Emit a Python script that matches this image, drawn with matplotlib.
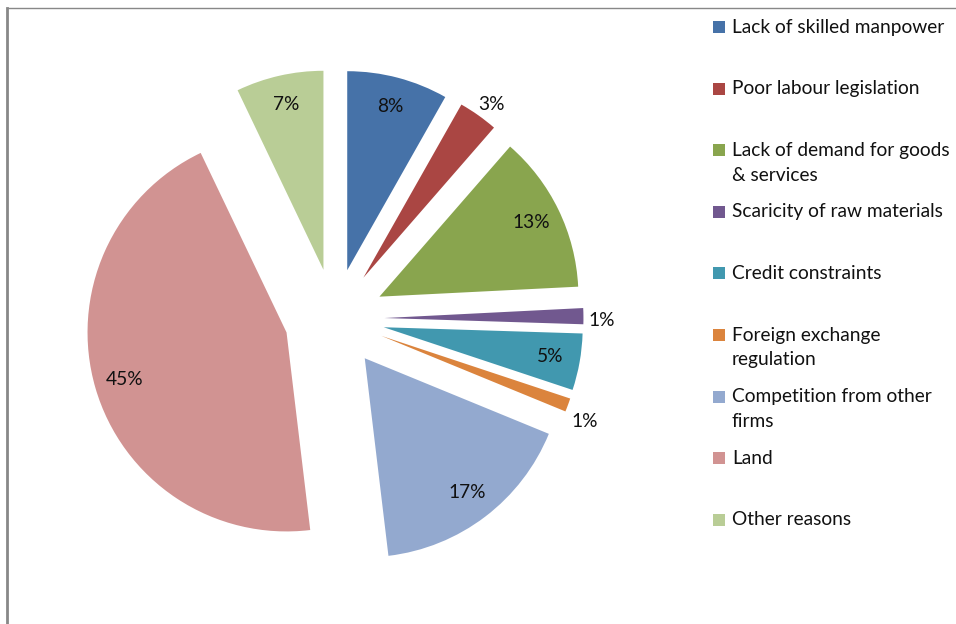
import numpy as np
import matplotlib.pyplot as plt
from matplotlib.patches import Rectangle

labels = ['Lack of skilled manpower', 'Poor labour legislation',
          'Lack of demand for goods\n& services', 'Scaricity of raw materials',
          'Credit constraints', 'Foreign exchange\nregulation',
          'Competition from other\nfirms', 'Land', 'Other reasons']
# shares; labels show them rounded
shares = [8.2, 3.2, 12.8, 1.3, 4.6, 1.1, 16.9, 44.8, 7.1]
colors = ['#4672A8', '#AA4643', '#89A54E', '#71588F', '#4198AF',
          '#DB843D', '#93A9CF', '#D19392', '#B9CD96']

plt.rcParams['font.family'] = ['Lato', 'DejaVu Sans']
W, H = 956, 624
fig = plt.figure(figsize=(W / 100, H / 100), dpi=100)

# pie axes: centre at (334.5, 318.5) px, radius 1 -> 199 px
cx, cy, R = 334.5, 318.5, 199
half = 1.5 * R
ax = fig.add_axes([(cx - half) / W, (H - cy - half) / H, 2 * half / W, 2 * half / H])
wedges, _ = ax.pie(shares, colors=colors, startangle=90, counterclock=False,
                   explode=[0.251] * len(shares), radius=1,
                   wedgeprops=dict(linewidth=0))
ax.set_xlim(-1.5, 1.5)
ax.set_ylim(-1.5, 1.5)
ax.axis('off')

# outside labels sit a little lower in the original (pixel nudges)
nudge = {1: (3, -4), 3: (0, -5), 5: (0, -10)}
for i, (w, v) in enumerate(zip(wedges, shares)):
    t = np.deg2rad((w.theta1 + w.theta2) / 2)
    d = 1.09 if v < 4 else 0.85
    x = w.center[0] + d * np.cos(t)
    y = w.center[1] + d * np.sin(t)
    ax.annotate(f'{v:.0f}%', (x, y), xytext=nudge.get(i, (0, 0)),
                textcoords='offset pixels', ha='center', va='center',
                fontsize=13.8, color='#111111')

# overlay in pixel coords for legend and frame
lax = fig.add_axes([0, 0, 1, 1])
lax.set_xlim(0, W)
lax.set_ylim(H, 0)
lax.axis('off')
lax.plot([7, W], [8, 8], color='#888888', lw=1)
lax.plot([7, 7], [8, H], color='#888888', lw=2)

y0, step = 27, 61.6
for i, (lab, c) in enumerate(zip(labels, colors)):
    y = y0 + i * step
    lax.add_patch(Rectangle((713, y - 6), 12, 12, color=c, lw=0))
    for k, line in enumerate(lab.split('\n')):
        lax.text(732, y + k * 25, line, ha='left', va='center', fontsize=13.8,
                 color='#111111')

fig.savefig('out.png', dpi=100)
